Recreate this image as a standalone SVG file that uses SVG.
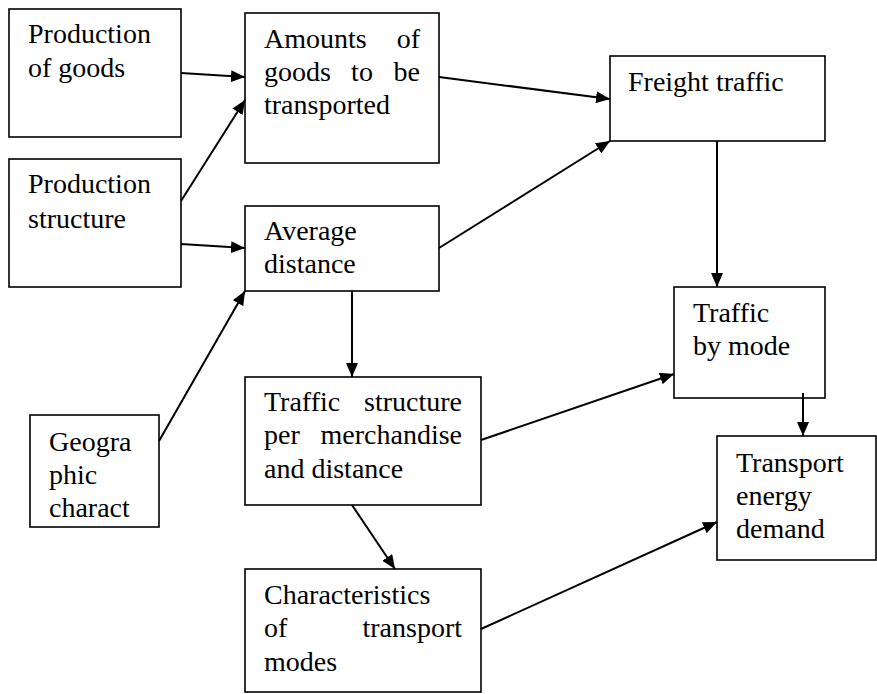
<svg xmlns="http://www.w3.org/2000/svg" width="877" height="694" viewBox="0 0 877 694">
<style>
.box{fill:#fff;stroke:#000;stroke-width:1.6}
text{font-family:"Liberation Serif","Times New Roman",Tinos,serif;font-size:28px;fill:#000}
.r{text-anchor:end}
.m{text-anchor:middle}
.c{stroke:#000;stroke-width:2;fill:none;marker-end:url(#ah)}
</style>
<defs>
<marker id="ah" markerUnits="userSpaceOnUse" markerWidth="14" markerHeight="12" refX="14" refY="6" orient="auto">
<path d="M0,0 L14,6 L0,12 z" fill="#000"/>
</marker>
</defs>
<rect width="877" height="694" fill="#fff"/>
<g id="n-prodgoods"><rect class="box" x="9" y="9" width="172" height="128"/><text x="28" y="43">Production</text><text x="28" y="77">of goods</text></g>
<g id="n-prodstruct"><rect class="box" x="9" y="159" width="172" height="128"/><text x="28" y="193">Production</text><text x="28" y="228">structure</text></g>
<g id="n-amounts"><rect class="box" x="245" y="13" width="194" height="150"/><text x="264" y="48">Amounts</text><text class="r" x="420" y="48">of</text><text x="264" y="81">goods</text><text class="m" x="362" y="81">to</text><text class="r" x="420" y="81">be</text><text x="264" y="114">transported</text></g>
<g id="n-avgdist"><rect class="box" x="245" y="206" width="194" height="85"/><text x="264" y="240">Average</text><text x="264" y="273">distance</text></g>
<g id="n-freight"><rect class="box" x="610" y="56" width="215" height="85"/><text x="628" y="91">Freight traffic</text></g>
<g id="n-bymode"><rect class="box" x="674" y="287" width="151" height="111"/><text x="693" y="322">Traffic</text><text x="693" y="355">by mode</text></g>
<g id="n-energy"><rect class="box" x="717" y="436" width="159" height="124"/><text x="736" y="472">Transport</text><text x="736" y="505">energy</text><text x="736" y="538">demand</text></g>
<g id="n-geo"><rect class="box" x="30" y="415" width="129" height="112"/><text x="49" y="451">Geogra</text><text x="49" y="484">phic</text><text x="49" y="517">charact</text></g>
<g id="n-trafstruct"><rect class="box" x="245" y="377" width="236" height="128"/><text x="264" y="411">Traffic</text><text class="r" x="462" y="411">structure</text><text x="264" y="444">per</text><text class="r" x="462" y="444">merchandise</text><text x="264" y="478">and distance</text></g>
<g id="n-charac"><rect class="box" x="245" y="569" width="236" height="123"/><text x="264" y="604">Characteristics</text><text x="264" y="637">of</text><text class="r" x="462" y="637">transport</text><text x="264" y="671">modes</text></g>
<g id="connectors">
<line class="c" x1="181" y1="73" x2="245" y2="77"/>
<line class="c" x1="181" y1="201" x2="245" y2="100"/>
<line class="c" x1="181" y1="244" x2="245" y2="248"/>
<line class="c" x1="159" y1="441" x2="245" y2="291"/>
<line class="c" x1="352" y1="291" x2="352" y2="377"/>
<line class="c" x1="439" y1="77" x2="610" y2="99"/>
<line class="c" x1="439" y1="248" x2="610" y2="141"/>
<line class="c" x1="717" y1="141" x2="717" y2="287"/>
<line class="c" x1="481" y1="440" x2="674" y2="374"/>
<line class="c" x1="803" y1="393" x2="803" y2="436"/>
<line class="c" x1="352" y1="505" x2="395" y2="569"/>
<line class="c" x1="481" y1="629" x2="717" y2="522"/>
</g>
</svg>
